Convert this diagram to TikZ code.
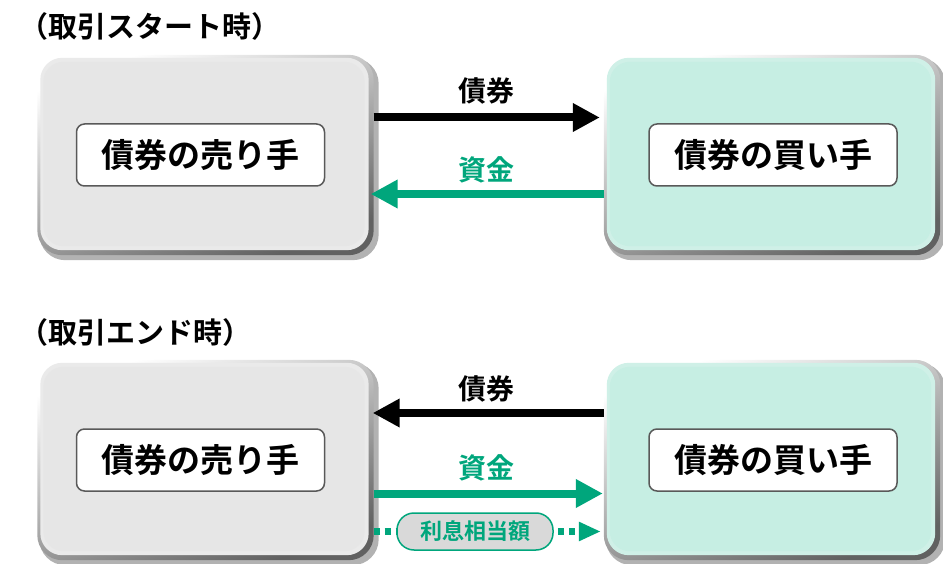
\documentclass[tikz,border=0pt]{standalone}
\usepackage{fontspec}
\newfontfamily\cjk{Noto Sans CJK JP}[BoldFont=* Bold]
\usetikzlibrary{arrows.meta,calc}
\definecolor{mygreen}{HTML}{00A67C}
\definecolor{buyfill}{HTML}{C6EEE3}
\definecolor{sellfill}{HTML}{E6E6E6}
\definecolor{pillfill}{HTML}{D9D9D9}
\newcommand\bevelbox[2]{%
  \fill[black, opacity=.30, rounded corners=26pt] ($(#1.south west)+(2,5)$) rectangle ($(#1.north east)+(5,3)$);
  \shade[rounded corners=25pt, top color=white, bottom color=black!62, shading angle=20] (#1.south west) rectangle (#1.north east);
  \fill[#2!85!white, rounded corners=22pt] ($(#1.south west)+(3,-5)$) rectangle ($(#1.north east)+(-5,3)$);
  \fill[#2, rounded corners=20pt] ($(#1.south west)+(6,-9)$) rectangle ($(#1.north east)+(-9,7)$);
}
\begin{document}
\begin{tikzpicture}[x=1pt,y=-1pt,
  party/.style={minimum width=336pt, minimum height=200pt, inner sep=0pt},
  innerbox/.style={draw=black!65, line width=1.5pt, fill=white, rounded corners=8pt,
    minimum width=248pt, minimum height=62pt, inner sep=0pt,
    font=\cjk\bfseries\fontsize{33}{38}\selectfont},
  header/.style={anchor=west, inner sep=0pt, font=\cjk\bfseries\fontsize{29}{33}\selectfont},
  flowlabel/.style={inner sep=0pt, font=\cjk\bfseries\fontsize{28}{32}\selectfont},
  blackarrow/.style={line width=8pt, black, -{Triangle[length=27pt,width=27pt]}},
  greenarrow/.style={line width=8pt, mygreen, -{Triangle[length=27pt,width=27pt]}},
  dotline/.style={line width=7pt, mygreen, dash pattern=on 6pt off 5pt},
  pill/.style={draw=mygreen, line width=1.5pt, fill=pillfill, rounded corners=17pt,
    minimum width=156pt, minimum height=37pt, inner sep=0pt, text=mygreen,
    font=\cjk\bfseries\fontsize{22}{26}\selectfont}
]
\useasboundingbox (0,0) rectangle (943,564);

% headers
\node[header] (h1) at (19,26) {（取引スタート時）};
\node[header] (h2) at (19,332) {（取引エンド時）};

% party boxes (anchors)
\node[party] (sellA) at (205.5,155) {};
\node[party] (buyA) at (772,155) {};
\node[party] (sellB) at (205.5,460) {};
\node[party] (buyB) at (772,460) {};

\bevelbox{sellA}{sellfill}
\bevelbox{buyA}{buyfill}
\bevelbox{sellB}{sellfill}
\bevelbox{buyB}{buyfill}

\node[innerbox] (sellAt) at ($(sellA.center)+(-5,0)$) {債券の売り手};
\node[innerbox] (buyAt) at ($(buyA.center)+(1,0)$) {債券の買い手};
\node[innerbox] (sellBt) at ($(sellB.center)+(-5,0)$) {債券の売り手};
\node[innerbox] (buyBt) at ($(buyB.center)+(1,0)$) {債券の買い手};

% helper levels
\coordinate (y1) at (0,117.5);
\coordinate (y2) at (0,194);
\coordinate (y3) at (0,413);
\coordinate (y4) at (0,493.5);
\coordinate (y5) at (0,531.5);

% start arrows
\draw[blackarrow, shorten >=4pt] (sellA.east |- y1) -- (buyA.west |- y1);
\draw[greenarrow, shorten >=-3pt] (buyA.west |- y2) -- (sellA.east |- y2);
\node[flowlabel] (lbl1) at (486,91) {債券};
\node[flowlabel, text=mygreen] (lbl2) at (486,170) {資金};

% end arrows
\draw[blackarrow, shorten >=-1pt] (buyB.west |- y3) -- (sellB.east |- y3);
\draw[greenarrow, shorten >=1pt] (sellB.east |- y4) -- (buyB.west |- y4);
\node[flowlabel] (lbl3) at (486,389) {債券};
\node[flowlabel, text=mygreen] (lbl4) at (486,468) {資金};

% interest
\node[pill] (interest) at (475,531.5) {利息相当額};
\draw[dotline] (sellB.east |- y5) -- (interest.west);
\draw[dotline, shorten <=4pt, shorten >=3pt, -{Triangle[length=22pt,width=18pt]}] (interest.east) -- (buyB.west |- y5);
\end{tikzpicture}
\end{document}
